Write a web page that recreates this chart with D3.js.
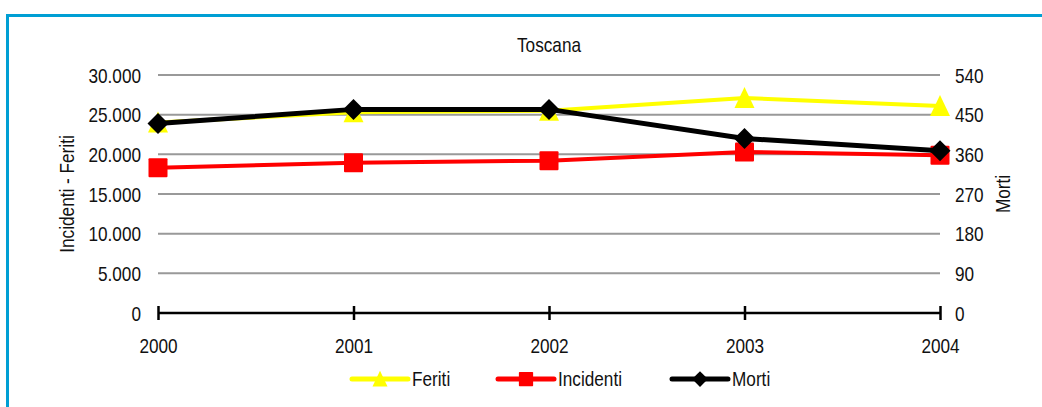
<!DOCTYPE html>
<html>
<head>
<meta charset="utf-8">
<script src="https://cdn.jsdelivr.net/npm/d3@7"></script>
<style>
  body { margin: 0; background: #fff; }
  svg text { font-family: "Liberation Sans", Arial, sans-serif; fill: #111; }
</style>
</head>
<body>
<script>
// Toscana road accidents 2000-2004
var years = ["2000", "2001", "2002", "2003", "2004"];
var feriti = [24000, 25300, 25500, 27100, 26100];
var incidenti = [18300, 18950, 19200, 20300, 19900];
var morti = [430, 462, 462, 396, 368];
var leftTicks = [0, 5000, 10000, 15000, 20000, 25000, 30000];
var rightTicks = [0, 90, 180, 270, 360, 450, 540];

var width = 1042, height = 407;
var fs = "20px";
var svg = d3.select("body").append("svg").attr("width", width).attr("height", height);

// squeeze text horizontally to mimic a narrow font
function narrow(sel, extra) {
    sel.each(function() {
        var t = d3.select(this);
        var tx = +t.attr("x") || 0, ty = +t.attr("y") || 0;
        t.attr("x", 0).attr("y", 0)
            .attr("transform", "translate(" + tx + "," + ty + ")" + (extra || "") + " scale(0.86,1)");
    });
}

// blue frame
svg.append("rect").attr("x", 7.5).attr("y", 15.5).attr("width", 1100).attr("height", 500)
    .style("fill", "none").style("stroke", "#009fd4").style("stroke-width", 3);

var x = d3.scalePoint().domain(years).range([158, 940]);
var yL = d3.scaleLinear().domain([0, 30000]).range([313, 75]);
var yR = d3.scaleLinear().domain([0, 540]).range([313, 75]);

var fmt = function(d) { return d3.format(",")(d).replace(/,/g, "."); };

// gridlines
svg.selectAll(".grid").data(leftTicks.filter(function(d) { return d > 0; }))
    .enter().append("line")
    .attr("x1", 158).attr("x2", 940)
    .attr("y1", function(d) { return yL(d); }).attr("y2", function(d) { return yL(d); })
    .style("stroke", "#999").style("stroke-width", 2);

// left axis labels
svg.append("g").attr("transform", "translate(141,0)")
    .call(d3.axisLeft(yL).tickValues(leftTicks).tickFormat(fmt).tickSize(0).tickPadding(0))
    .call(function(g) { g.select(".domain").remove(); })
    .selectAll("text").style("font-size", fs).attr("dy", "0.35em")
    .call(narrow);

// right axis labels
svg.append("g").attr("transform", "translate(955,0)")
    .call(d3.axisRight(yR).tickValues(rightTicks).tickSize(0).tickPadding(0))
    .call(function(g) { g.select(".domain").remove(); })
    .selectAll("text").style("font-size", fs).attr("dy", "0.35em")
    .call(narrow);

// x axis
var xa = svg.append("g").attr("transform", "translate(0,313)")
    .call(d3.axisBottom(x).tickSize(7).tickPadding(19));
xa.select(".domain").attr("d", "M158,0H940").style("stroke", "#000").style("stroke-width", 2.5);
xa.selectAll(".tick line").attr("y1", -7).style("stroke", "#000").style("stroke-width", 2.5);
xa.selectAll("text").style("font-size", fs).call(narrow);
svg.selectAll("g").attr("font-family", null);

// titles
svg.append("text").attr("x", 549).attr("y", 52).attr("text-anchor", "middle").style("font-size", fs).text("Toscana").call(narrow);
svg.append("text").attr("x", 74).attr("y", 194).attr("text-anchor", "middle")
    .style("font-size", fs).text("Incidenti - Feriti").call(narrow, " rotate(-90)");
svg.append("text").attr("x", 1010).attr("y", 194).attr("text-anchor", "middle")
    .style("font-size", fs).text("Morti").call(narrow, " rotate(-90)");

var diamond = function(s) { return "M0,-" + s + "L" + s + ",0L0," + s + "L-" + s + ",0Z"; };

function drawSeries(vals, scale, color, lw, marker) {
    var line = d3.line().x(function(d, i) { return x(years[i]); }).y(function(d) { return scale(d); });
    svg.append("path").datum(vals).attr("d", line)
        .style("fill", "none").style("stroke", color).style("stroke-width", lw);
    svg.selectAll(null).data(vals).enter().append("g")
        .attr("transform", function(d, i) { return "translate(" + x(years[i]) + "," + scale(d) + ")"; })
        .each(function() { marker(d3.select(this)); });
}

function triMark(g) { g.append("path").attr("d", "M0,-11L10,10L-10,10Z").style("fill", "#ffff00"); }
function sqMark(g) { g.append("rect").attr("x", -9.5).attr("y", -9.5).attr("width", 19).attr("height", 19).attr("rx", 1).style("fill", "#ff0000"); }
function diaMark(g) { g.append("path").attr("d", diamond(10.5)).style("fill", "#000"); }

drawSeries(feriti, yL, "#ffff00", 4, triMark);
drawSeries(incidenti, yL, "#ff0000", 4, sqMark);
drawSeries(morti, yR, "#000", 5, diaMark);

// legend
var legend = [
    { name: "Feriti", color: "#ffff00", mark: triMark, x0: 352 },
    { name: "Incidenti", color: "#ff0000", mark: sqMark, x0: 498 },
    { name: "Morti", color: "#000", mark: diaMark, x0: 672 }
];
legend.forEach(function(l) {
    svg.append("line").attr("x1", l.x0).attr("x2", l.x0 + 56).attr("y1", 379).attr("y2", 379)
        .style("stroke", l.color).style("stroke-width", 5).style("stroke-linecap", "round");
    var g = svg.append("g").attr("transform", "translate(" + (l.x0 + 28) + ",379) scale(0.75)");
    l.mark(g);
    svg.append("text").attr("x", l.x0 + 60).attr("y", 386).style("font-size", fs).text(l.name).call(narrow);
});
</script>
</body>
</html>
